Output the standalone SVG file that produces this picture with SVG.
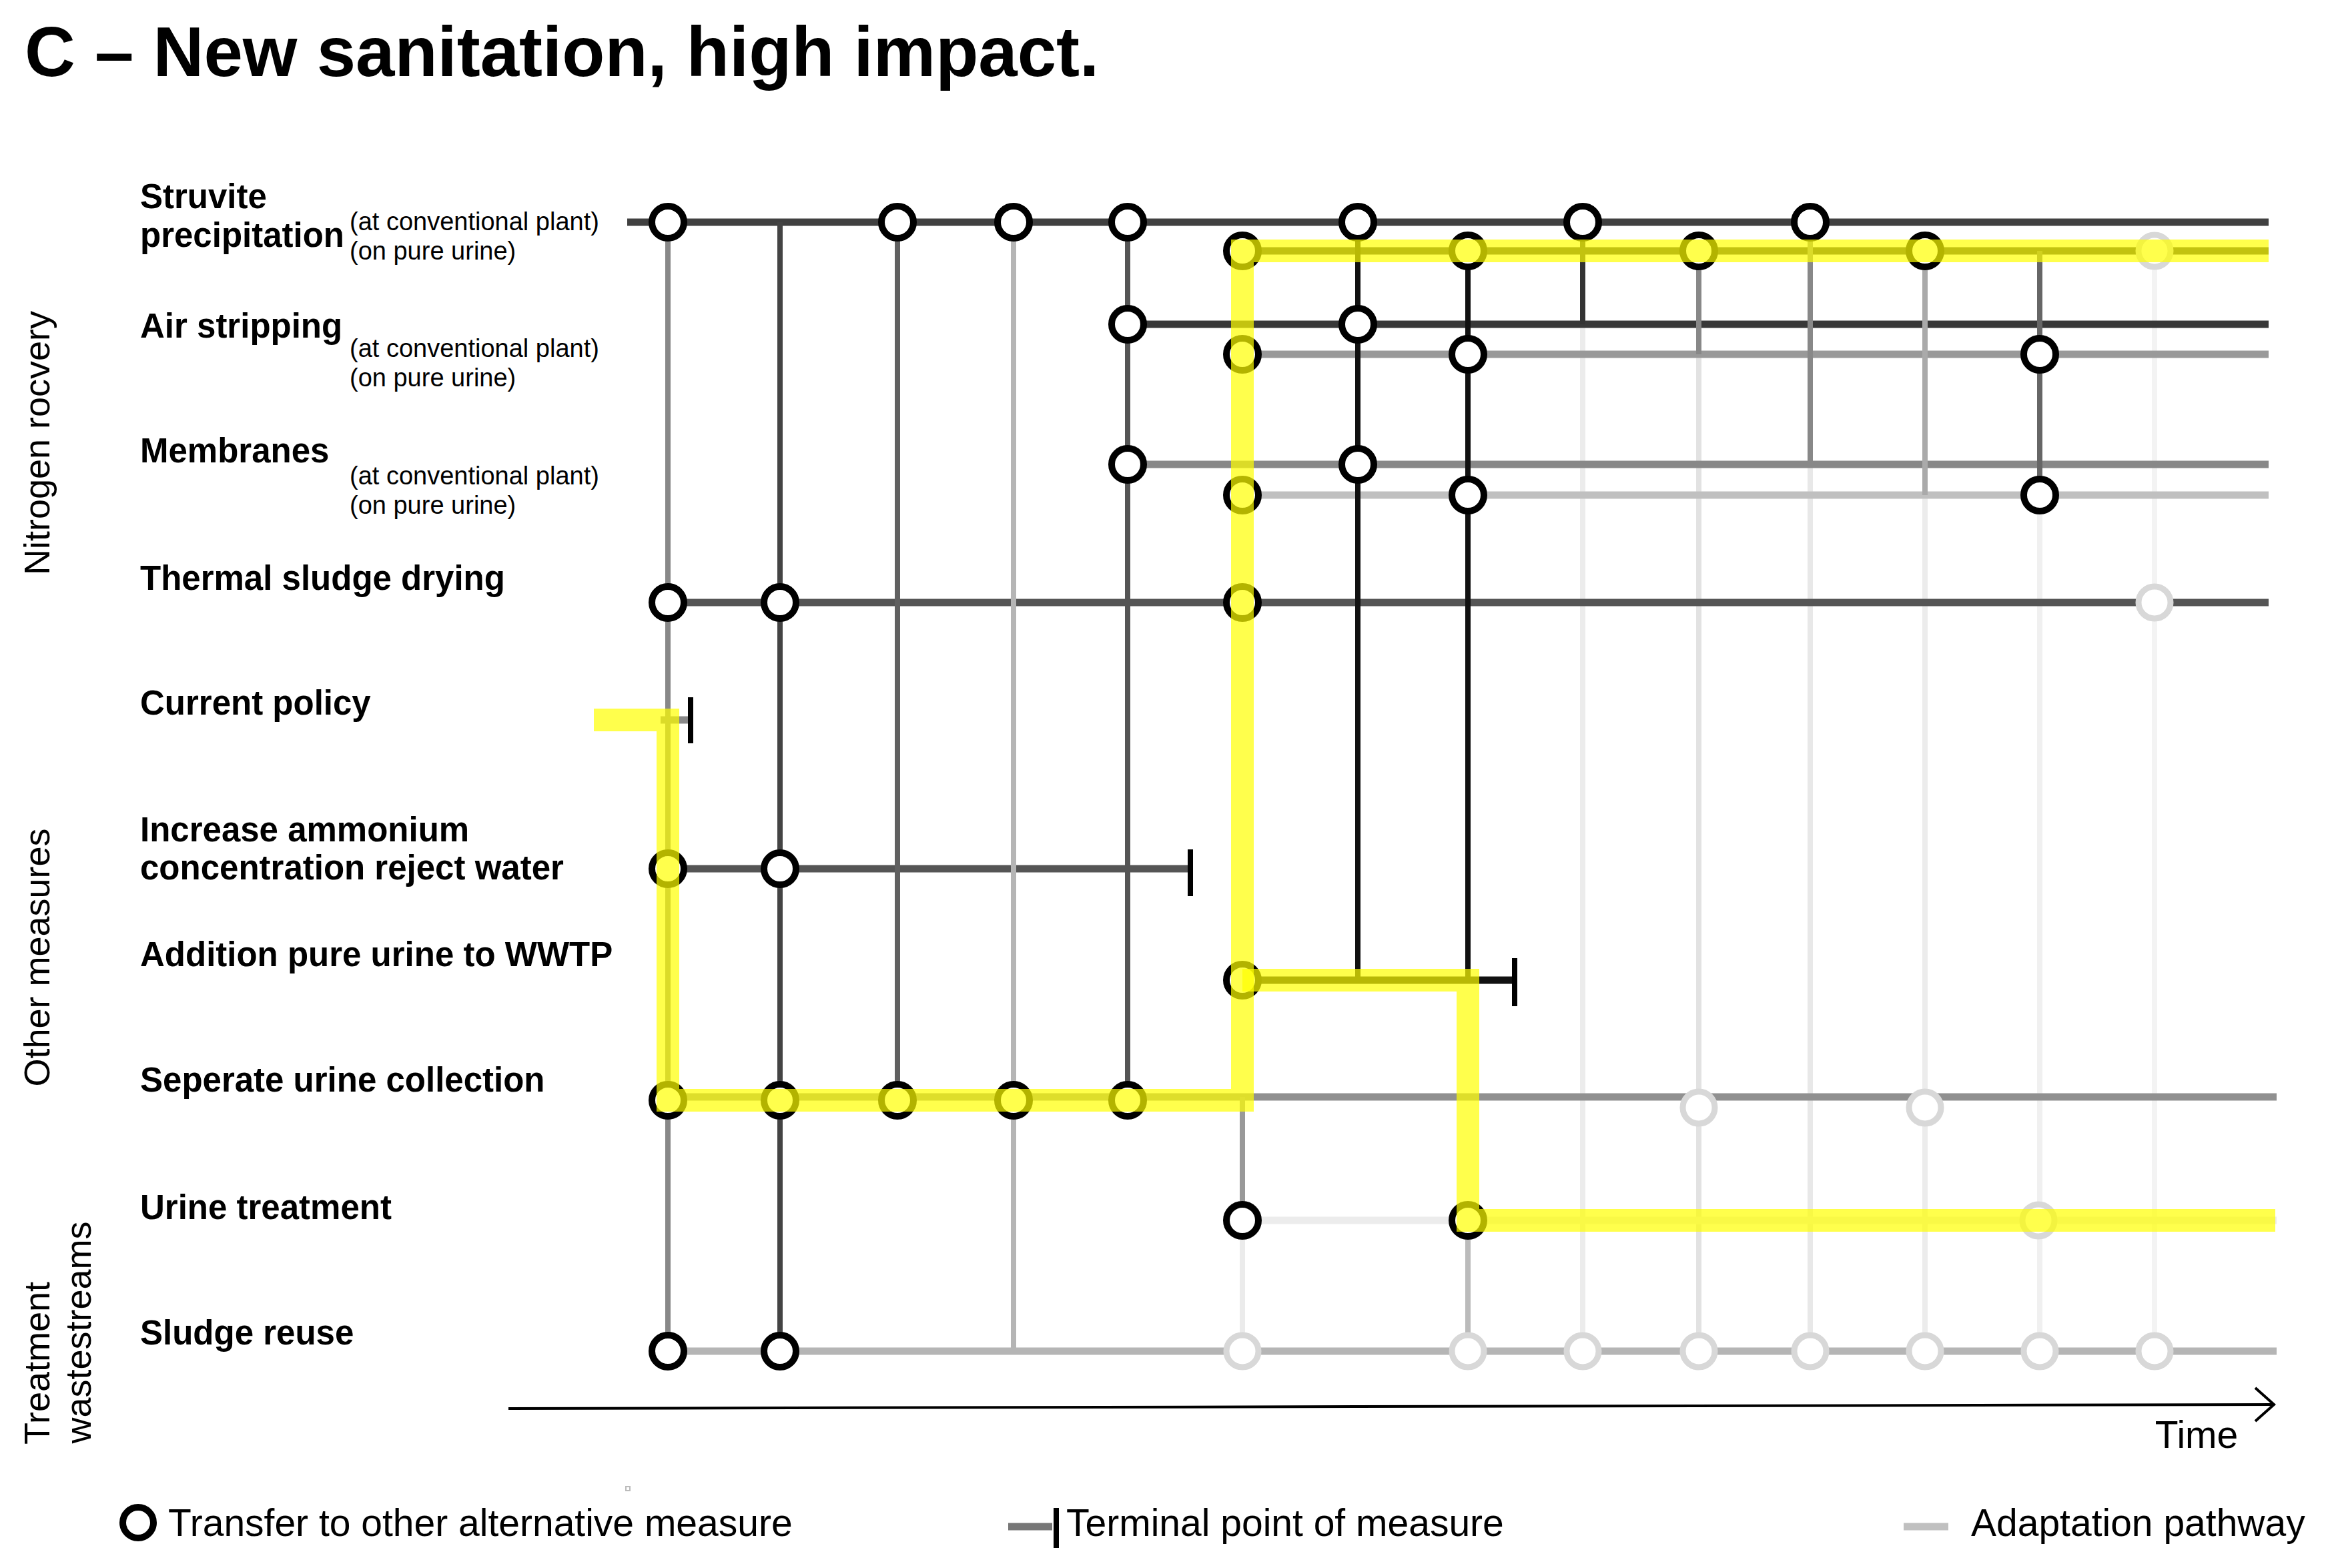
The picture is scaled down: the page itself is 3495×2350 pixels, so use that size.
<svg xmlns="http://www.w3.org/2000/svg" width="3495" height="2350" viewBox="0 0 3495 2350">
<style>
text{font-family:"Liberation Sans",Arial,sans-serif;fill:#000}
.lb{font-size:51px;font-weight:bold}
.sm{font-size:38px}
.grp{font-size:54px}
.lg{font-size:57px}
.h{fill:none;stroke-width:11}
.v{fill:none;stroke-width:8}
.c{fill:#fff;stroke:#000;stroke-width:10}
.f{fill:#fff;stroke:#d8d8d8;stroke-width:9}
.y{fill:none;stroke:#ffff00;stroke-opacity:0.7;stroke-width:34;stroke-linejoin:miter}
.t{stroke:#000;stroke-width:8}
</style>
<rect width="3495" height="2350" fill="#fff"/>
<text x="37" y="114" style="font-size:105px;font-weight:bold">C – New sanitation, high impact.</text>

<g id="labels">
<text class="lb" x="210" y="312">Struvite</text>
<text class="lb" x="210" y="370">precipitation</text>
<text class="sm" x="524" y="345">(at conventional plant)</text>
<text class="sm" x="524" y="389">(on pure urine)</text>
<text class="lb" x="210" y="506">Air stripping</text>
<text class="sm" x="524" y="535">(at conventional plant)</text>
<text class="sm" x="524" y="579">(on pure urine)</text>
<text class="lb" x="210" y="693">Membranes</text>
<text class="sm" x="524" y="726">(at conventional plant)</text>
<text class="sm" x="524" y="770">(on pure urine)</text>
<text class="lb" x="210" y="884">Thermal sludge drying</text>
<text class="lb" x="210" y="1071">Current policy</text>
<text class="lb" x="210" y="1261">Increase ammonium</text>
<text class="lb" x="210" y="1318">concentration reject water</text>
<text class="lb" x="210" y="1448">Addition pure urine to WWTP</text>
<text class="lb" x="210" y="1636">Seperate urine collection</text>
<text class="lb" x="210" y="1827">Urine treatment</text>
<text class="lb" x="210" y="2015">Sludge reuse</text>
<text class="grp" transform="translate(74,664) rotate(-90)" text-anchor="middle">Nitrogen rocvery</text>
<text class="grp" transform="translate(74,1435) rotate(-90)" text-anchor="middle">Other measures</text>
<text class="grp" transform="translate(74,2043) rotate(-90)" text-anchor="middle">Treatment</text>
<text class="grp" transform="translate(136,1997) rotate(-90)" text-anchor="middle">wastestreams</text>
</g>

<g id="connectors">
<line class="v" x1="2372" y1="486" x2="2372" y2="2025" stroke="#ececec"/>
<line class="v" x1="2546" y1="531" x2="2546" y2="2025" stroke="#e2e2e2"/>
<line class="v" x1="2713" y1="696" x2="2713" y2="2025" stroke="#e8e8e8"/>
<line class="v" x1="2885" y1="742" x2="2885" y2="2025" stroke="#ececec"/>
<line class="v" x1="3057" y1="742" x2="3057" y2="2025" stroke="#f0f0f0"/>
<line class="v" x1="3229" y1="376" x2="3229" y2="2025" stroke="#f3f3f3"/>
<line class="v" x1="1862" y1="1829" x2="1862" y2="2025" stroke="#ebebeb"/>
<line class="h" x1="940" y1="333" x2="3400" y2="333" stroke="#404040"/>
<line class="h" x1="1862" y1="376" x2="3400" y2="376" stroke="#333"/>
<line class="h" x1="1690" y1="486" x2="3400" y2="486" stroke="#383838"/>
<line class="h" x1="1862" y1="531" x2="3400" y2="531" stroke="#999"/>
<line class="h" x1="1690" y1="696" x2="3400" y2="696" stroke="#888"/>
<line class="h" x1="1862" y1="742" x2="3400" y2="742" stroke="#c0c0c0"/>
<line class="h" x1="1001" y1="903" x2="3400" y2="903" stroke="#555"/>
<line class="h" x1="990" y1="1079" x2="1035" y2="1079" stroke="#888"/>
<line class="h" x1="1001" y1="1302" x2="1784" y2="1302" stroke="#555"/>
<line class="h" x1="1862" y1="1469" x2="2270" y2="1469" stroke="#111"/>
<line class="h" x1="1001" y1="1644" x2="3412" y2="1644" stroke="#909090"/>
<line class="h" x1="1862" y1="1829" x2="3412" y2="1829" stroke="#ececec"/>
<line class="h" x1="1001" y1="2025" x2="3412" y2="2025" stroke="#b5b5b5"/>
<line class="v" x1="1001" y1="333" x2="1001" y2="2025" stroke="#888"/>
<line class="v" x1="1169" y1="333" x2="1169" y2="2025" stroke="#444"/>
<line class="v" x1="1345" y1="333" x2="1345" y2="1649" stroke="#606060"/>
<line class="v" x1="1519" y1="333" x2="1519" y2="2025" stroke="#b5b5b5"/>
<line class="v" x1="1690" y1="333" x2="1690" y2="1649" stroke="#555"/>
<line class="v" x1="1862" y1="1644" x2="1862" y2="1829" stroke="#999"/>
<line class="v" x1="2035" y1="333" x2="2035" y2="1469" stroke="#111"/>
<line class="v" x1="2200" y1="376" x2="2200" y2="1469" stroke="#111"/>
<line class="v" x1="2200" y1="1829" x2="2200" y2="2025" stroke="#bbb"/>
<line class="v" x1="2372" y1="333" x2="2372" y2="486" stroke="#333"/>
<line class="v" x1="2546" y1="376" x2="2546" y2="531" stroke="#888"/>
<line class="v" x1="2713" y1="333" x2="2713" y2="696" stroke="#888"/>
<line class="v" x1="2885" y1="376" x2="2885" y2="742" stroke="#aaa"/>
<line class="v" x1="3057" y1="376" x2="3057" y2="742" stroke="#666"/>
<line class="t" x1="1035" y1="1045" x2="1035" y2="1114"/>
<line class="t" x1="1784" y1="1273" x2="1784" y2="1343"/>
<line class="t" x1="2270" y1="1436" x2="2270" y2="1508"/>
<line x1="762" y1="2111" x2="3408" y2="2105" stroke="#000" stroke-width="4"/>
<polyline points="3380,2080 3408,2105 3380,2130" fill="none" stroke="#000" stroke-width="4"/>
</g>

<g id="nodes">
<g id="faded">
<circle class="f" cx="3229" cy="376" r="24"/>
<circle class="f" cx="3229" cy="903" r="24"/>
<circle class="f" cx="2546" cy="1660" r="24"/>
<circle class="f" cx="2885" cy="1660" r="24"/>
<circle class="f" cx="3055" cy="1829" r="24"/>
<circle class="f" cx="1862" cy="2025" r="24"/>
<circle class="f" cx="2200" cy="2025" r="24"/>
<circle class="f" cx="2372" cy="2025" r="24"/>
<circle class="f" cx="2546" cy="2025" r="24"/>
<circle class="f" cx="2713" cy="2025" r="24"/>
<circle class="f" cx="2885" cy="2025" r="24"/>
<circle class="f" cx="3057" cy="2025" r="24"/>
<circle class="f" cx="3229" cy="2025" r="24"/>
</g>
<g id="transfers">
<circle class="c" cx="1001" cy="333" r="24"/>
<circle class="c" cx="1345" cy="333" r="24"/>
<circle class="c" cx="1519" cy="333" r="24"/>
<circle class="c" cx="1690" cy="333" r="24"/>
<circle class="c" cx="2035" cy="333" r="24"/>
<circle class="c" cx="2372" cy="333" r="24"/>
<circle class="c" cx="2713" cy="333" r="24"/>
<circle class="c" cx="1862" cy="376" r="24"/>
<circle class="c" cx="2200" cy="376" r="24"/>
<circle class="c" cx="2546" cy="376" r="24"/>
<circle class="c" cx="2885" cy="376" r="24"/>
<circle class="c" cx="1690" cy="486" r="24"/>
<circle class="c" cx="2035" cy="486" r="24"/>
<circle class="c" cx="1862" cy="531" r="24"/>
<circle class="c" cx="2200" cy="531" r="24"/>
<circle class="c" cx="3057" cy="531" r="24"/>
<circle class="c" cx="1690" cy="696" r="24"/>
<circle class="c" cx="2035" cy="696" r="24"/>
<circle class="c" cx="1862" cy="742" r="24"/>
<circle class="c" cx="2200" cy="742" r="24"/>
<circle class="c" cx="3057" cy="742" r="24"/>
<circle class="c" cx="1001" cy="903" r="24"/>
<circle class="c" cx="1169" cy="903" r="24"/>
<circle class="c" cx="1862" cy="903" r="24"/>
<circle class="c" cx="1001" cy="1302" r="24"/>
<circle class="c" cx="1169" cy="1302" r="24"/>
<circle class="c" cx="1862" cy="1469" r="24"/>
<circle class="c" cx="1001" cy="1649" r="24"/>
<circle class="c" cx="1169" cy="1649" r="24"/>
<circle class="c" cx="1345" cy="1649" r="24"/>
<circle class="c" cx="1519" cy="1649" r="24"/>
<circle class="c" cx="1690" cy="1649" r="24"/>
<circle class="c" cx="1862" cy="1829" r="24"/>
<circle class="c" cx="2200" cy="1829" r="24"/>
<circle class="c" cx="1001" cy="2025" r="24"/>
<circle class="c" cx="1169" cy="2025" r="24"/>
</g>
</g>

<g id="pathway">
<path class="y" d="M890 1079 H1001 V1649 H1862 V376 H3400"/>
<path class="y" d="M1862 1469 H2200 V1829 H3410"/>
</g>

<text class="lg" x="3292" y="2170" text-anchor="middle">Time</text>
<rect x="938" y="2228" width="6" height="6" fill="none" stroke="#bbb" stroke-width="2"/>

<g id="legend">
<circle cx="207" cy="2282" r="23" fill="#fff" stroke="#000" stroke-width="10"/>
<text class="lg" x="252" y="2302">Transfer to other alternative measure</text>
<line x1="1511" y1="2288" x2="1577" y2="2288" stroke="#777" stroke-width="11"/>
<line x1="1583" y1="2260" x2="1583" y2="2320" stroke="#000" stroke-width="8"/>
<text class="lg" x="1598" y="2302">Terminal point of measure</text>
<line x1="2853" y1="2288" x2="2920" y2="2288" stroke="#c0c0c0" stroke-width="11"/>
<text class="lg" x="2954" y="2302">Adaptation pathway</text>
</g>
</svg>
